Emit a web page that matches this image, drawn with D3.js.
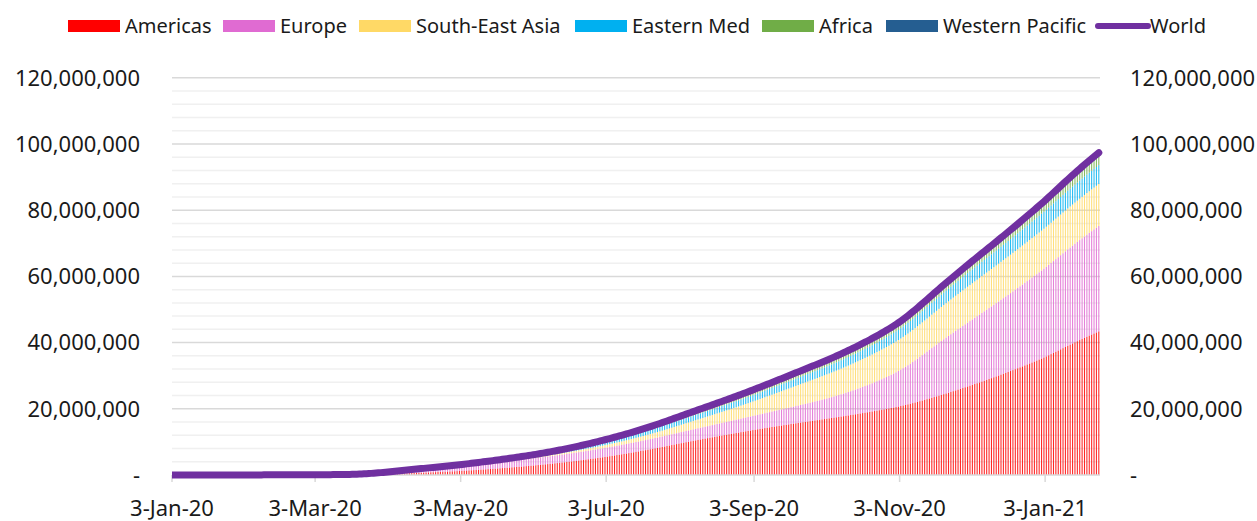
<!DOCTYPE html>
<html>
<head>
<meta charset="utf-8">
<script src="https://cdn.jsdelivr.net/npm/d3@7"></script>
<style>
  html, body { margin: 0; padding: 0; background: #fff; }
  svg { display: block; font-family: "Noto Sans", "Open Sans", sans-serif; }
</style>
</head>
<body>
<svg id="chart" width="1257" height="521"></svg>
<script>
// ---- data -------------------------------------------------------------
// Cumulative confirmed COVID-19 cases by WHO region, in thousands,
// one value per day starting 3 Jan 2020 (through 25 Jan 2021).
const firstDay = "2020-01-03";

const regions = ["Americas", "Europe", "South-East Asia", "Eastern Med", "Africa", "Western Pacific"];
const regionColors = ["#ff0000", "#e06bd2", "#ffd966", "#00b0f0", "#70ad47", "#255e91"];
const worldLabel = "World";
const worldColor = "#7030a0";

const yTickValues = [0, 20e6, 40e6, 60e6, 80e6, 100e6, 120e6];
const xTickLabels = ["3-Jan-20", "3-Mar-20", "3-May-20", "3-Jul-20", "3-Sep-20", "3-Nov-20", "3-Jan-21"];

const americas = [
  0,0,0,0,0,0,0,0,0,0, 0,0,0,0,0,0,0,0,0,0, 0,0,0,0,0,0,0,0,0,
  0,0,0,0,0,0,0,0,0,0, 0,0,0,0,0,0,0,0,0,0, 0,0,0,0,0,0,0,0,0.1,
  0.1,0.1,0.2,0.2,0.3,0.4,0.5,0.6,0.8,1.0, 1.4,1.9,2.6,3.4,4.6,6.2,8.3,11,15,20, 27,35,45,56,69,85,104,125,147,166,188,
  215,245,277,311,344,376,407,439,472,504, 535,565,594,623,653,684,716,749,781,811, 840,869,899,930,962,995,1027,1059,1098,1135,
  1175,1216,1258,1300,1343,1387,1432,1477,1523,1570, 1618,1667,1716,1766,1817,1869,1921,1974,2028,2083, 2139,2195,2252,2310,2369,2429,2489,2550,2612,2675,2739,
  2804,2870,2938,3007,3077,3149,3222,3296,3371,3448, 3526,3605,3685,3767,3850,3934,4020,4107,4195,4285, 4376,4468,4562,4657,4753,4851,4950,5050,5152,5255,
  5360,5467,5575,5685,5796,5909,6023,6139,6256,6375, 6495,6617,6740,6865,6991,7119,7248,7379,7511,7645, 7780,7916,8054,8193,8333,8474,8616,8759,8903,9048,9194,
  9339,9483,9626,9768,9909,10049,10188,10326,10463,10599, 10734,10868,11002,11135,11268,11400,11532,11663,11794,11924, 12054,12183,12312,12440,12568,12695,12822,12948,13074,13199,13324,
  13448,13570,13691,13811,13930,14048,14165,14281,14396,14510, 14623,14736,14848,14960,15071,15182,15292,15402,15511,15620, 15728,15836,15944,16051,16158,16265,16371,16477,16583,16688,
  16793,16899,17006,17114,17222,17331,17441,17552,17663,17775, 17888,18002,18117,18233,18350,18468,18587,18707,18828,18950, 19073,19197,19322,19449,19577,19707,19838,19971,20106,20243,20382,
  20532,20687,20847,21012,21182,21357,21537,21722,21912,22106, 22303,22503,22706,22912,23121,23333,23547,23763,23981,24201, 24423,24647,24873,25101,25331,25563,25797,26033,26271,26511,
  26751,26993,27237,27483,27731,27981,28233,28487,28743,29001, 29261,29523,29787,30053,30321,30591,30863,31137,31413,31691, 31971,32253,32537,32823,33111,33401,33693,33987,34283,34581,34881,
  35191,35511,35841,36181,36531,36887,37247,37609,37971,38331, 38689,39044,39396,39745,40091,40434,40774,41111,41445,41776, 42104,42429,42751,43070,43386
];

const europe = [
  0,0,0,0,0,0,0,0,0,0, 0,0,0,0,0,0,0,0,0,0, 0,0,0,0,0,0,0,0,0,
  0,0,0,0,0,0,0,0,0,0, 0,0,0,0,0,0,0,0,0,0, 0.1,0.2,0.2,0.3,0.4,0.5,0.7,0.9,1.2,
  1.7,2.2,2.7,3.3,4.2,5.5,6.9,9.0,11.7,14.7, 18,22,28,36,45,55,66,80,96,114, 132,155,180,206,234,262,293,323,356,388,420,
  453,487,522,558,594,631,667,702,737,772, 807,841,875,908,941,974,1007,1040,1073,1105, 1137,1169,1201,1233,1264,1295,1326,1356,1386,1416,
  1445,1474,1502,1530,1558,1585,1612,1639,1665,1691, 1717,1742,1767,1792,1816,1840,1864,1887,1910,1933, 1955,1977,1999,2020,2041,2062,2082,2102,2122,2141,2160,
  2178,2196,2214,2231,2248,2265,2282,2299,2316,2333, 2350,2367,2384,2401,2418,2435,2452,2470,2488,2506, 2524,2542,2560,2578,2596,2614,2632,2650,2668,2686,
  2704,2722,2740,2758,2776,2794,2812,2830,2848,2867, 2886,2905,2924,2943,2962,2981,3000,3019,3038,3057, 3076,3095,3114,3133,3153,3173,3193,3213,3233,3253,3274,
  3296,3318,3341,3364,3388,3412,3437,3462,3488,3514, 3541,3568,3596,3624,3653,3682,3712,3742,3773,3804, 3836,3869,3902,3936,3971,4006,4042,4079,4117,4156,4196,
  4237,4279,4322,4366,4411,4457,4504,4552,4601,4651, 4702,4754,4807,4861,4916,4972,5029,5087,5146,5206, 5267,5329,5392,5456,5521,5587,5655,5725,5797,5871,
  5949,6031,6117,6207,6301,6399,6501,6607,6717,6831, 6949,7071,7197,7327,7461,7599,7741,7887,8037,8192, 8352,8517,8687,8862,9043,9230,9423,9622,9828,10041,10261,
  10489,10729,10981,11245,11521,11809,12107,12413,12727,13047, 13372,13700,14030,14360,14688,15013,15334,15650,15961,16266, 16565,16858,17145,17426,17702,17973,18239,18501,18759,19013,
  19264,19512,19758,20002,20244,20484,20722,20959,21195,21430, 21664,21898,22132,22366,22600,22834,23068,23302,23536,23770, 24004,24238,24472,24706,24939,25171,25403,25635,25868,26102,26337,
  26573,26808,27042,27275,27507,27738,27968,28197,28425,28652, 28878,29102,29324,29544,29762,29978,30192,30404,30614,30822, 31028,31232,31434,31634,31832
];

const southEastAsia = [
  0,0,0,0,0,0,0,0,0,0, 0,0,0,0,0,0,0,0,0,0, 0,0,0,0,0,0,0,0,0,
  0,0,0,0,0,0,0,0,0,0, 0,0,0,0,0,0,0,0,0,0, 0,0,0,0,0,0,0,0,0,
  0.1,0.1,0.1,0.1,0.1,0.1,0.1,0.1,0.2,0.2, 0.2,0.3,0.3,0.3,0.4,0.4,0.5,0.6,0.7,0.9, 1.0,1.2,1.5,1.8,2.1,2.5,2.9,3.3,3.7,4.2,4.8,
  5.4,6.2,7.1,8.0,9.0,10.0,11.0,12.1,13.2,14.4, 15.6,16.9,18.2,19.6,21.0,22.5,24.0,25.6,27.3,29.0, 30.8,32.7,34.6,36.6,38.6,40.7,42.9,45.1,47.4,49.8,
  52,55,58,61,65,68,72,76,80,85, 89,94,99,104,110,116,122,128,134,141, 149,156,164,172,181,190,199,209,219,230,241,
  252,264,276,289,302,316,330,345,360,376, 392,409,426,444,462,481,500,520,540,561, 582,604,626,649,672,696,720,745,770,796,
  821,847,874,902,931,961,991,1022,1054,1087, 1121,1156,1192,1229,1267,1306,1346,1387,1429,1472, 1516,1562,1609,1657,1707,1758,1811,1866,1922,1980,2040,
  2100,2161,2222,2284,2346,2409,2472,2536,2600,2665, 2730,2796,2862,2929,2996,3064,3132,3201,3270,3340, 3411,3483,3556,3630,3705,3781,3858,3936,4016,4098,4182,
  4268,4356,4446,4537,4629,4722,4816,4911,5007,5104, 5202,5300,5399,5498,5598,5698,5798,5897,5996,6094, 6191,6287,6382,6476,6569,6661,6752,6842,6931,7019,
  7106,7192,7277,7361,7444,7526,7607,7687,7766,7844, 7921,7997,8072,8146,8219,8291,8362,8432,8501,8569, 8636,8702,8767,8831,8894,8956,9017,9077,9136,9194,9251,
  9308,9364,9420,9475,9530,9584,9638,9691,9744,9796, 9848,9899,9950,10000,10050,10100,10150,10201,10252,10303, 10355,10407,10459,10511,10563,10614,10665,10715,10765,10814,
  10862,10909,10956,11002,11048,11093,11138,11182,11225,11268, 11310,11351,11392,11432,11472,11511,11549,11587,11624,11661, 11697,11733,11768,11803,11837,11871,11904,11937,11970,12004,12038,
  12068,12097,12126,12154,12182,12210,12238,12265,12292,12319, 12346,12372,12398,12424,12450,12476,12501,12526,12551,12576, 12601,12626,12650,12674,12698
];

const easternMed = [
  0,0,0,0,0,0,0,0,0,0, 0,0,0,0,0,0,0,0,0,0, 0,0,0,0,0,0,0,0,0,
  0,0,0,0,0,0,0,0,0,0, 0,0,0,0,0,0,0,0,0,0, 0,0,0,0.1,0.1,0.2,0.2,0.3,0.4,0.5,
  0.9,1.6,2.4,3.0,3.8,4.9,6.0,7.2,8.2,9.2, 10.3,11.5,12.6,14.0,15.5,17.0,18.5,20.0,21.5,23.0, 24.8,26.8,28.8,30.8,32.8,35.0,37.5,40.0,43.0,46.0,49.5,
  53,56,59,63,67,70,74,78,82,86, 90,94,98,103,107,111,116,120,124,129, 134,139,143,148,154,159,164,169,175,181,
  187,193,200,207,214,222,230,238,246,255, 264,273,282,292,302,312,322,333,344,355, 366,378,390,402,414,427,440,453,467,481,496,
  511,526,542,558,574,591,608,625,642,660, 678,696,714,733,752,771,790,809,829,849, 869,889,909,929,949,969,989,1009,1029,1049,
  1068,1086,1104,1121,1138,1155,1171,1187,1203,1219, 1234,1249,1264,1279,1294,1309,1324,1338,1352,1366, 1380,1394,1408,1422,1435,1448,1461,1474,1487,1500,1513,
  1526,1538,1550,1562,1574,1586,1598,1610,1622,1634, 1646,1658,1670,1682,1694,1706,1718,1730,1742,1754, 1766,1778,1790,1802,1814,1826,1838,1850,1863,1876,1889,
  1903,1917,1931,1946,1961,1976,1991,2006,2021,2037, 2053,2069,2085,2101,2117,2133,2149,2165,2181,2198, 2215,2232,2249,2266,2283,2300,2317,2334,2352,2370,
  2388,2406,2425,2444,2463,2482,2502,2522,2542,2562, 2583,2604,2625,2646,2668,2690,2712,2734,2757,2780, 2803,2827,2851,2875,2900,2925,2950,2976,3002,3029,3056,
  3084,3113,3143,3174,3206,3239,3272,3306,3340,3375, 3410,3445,3481,3517,3553,3589,3626,3663,3700,3737, 3774,3811,3848,3885,3922,3958,3994,4030,4066,4102,
  4138,4173,4208,4243,4277,4311,4345,4378,4411,4444, 4477,4509,4541,4573,4605,4636,4667,4698,4729,4760, 4791,4822,4853,4884,4915,4946,4977,5008,5039,5070,5101,
  5125,5149,5174,5199,5224,5249,5274,5299,5324,5349, 5374,5399,5424,5449,5474,5499,5524,5549,5574,5599, 5624,5649,5674,5699,5724
];

const africa = [
  0,0,0,0,0,0,0,0,0,0, 0,0,0,0,0,0,0,0,0,0, 0,0,0,0,0,0,0,0,0,
  0,0,0,0,0,0,0,0,0,0, 0,0,0,0,0,0,0,0,0,0, 0,0,0,0,0,0,0,0,0,
  0,0,0,0,0,0,0,0,0,0, 0,0,0,0.1,0.1,0.1,0.2,0.2,0.3,0.4, 0.5,0.6,0.8,1.0,1.2,1.5,1.8,2.1,2.5,2.9,3.3,
  3.6,4.0,4.4,4.8,5.3,5.8,6.3,6.8,7.3,7.8, 8.4,9.0,9.6,10.3,11.0,11.7,12.4,13.2,14.0,14.8, 15.7,16.6,17.6,18.6,19.6,20.7,21.8,23.0,24.2,25.5,
  27,28,30,32,34,35,37,40,42,44, 46,49,51,53,56,58,61,64,66,69, 72,75,78,81,84,87,90,93,96,99,102,
  106,109,113,117,122,126,131,136,141,147, 152,158,164,170,177,183,191,198,206,214, 222,231,240,249,258,268,278,289,299,310,
  321,332,344,356,368,381,394,407,421,435, 449,464,479,494,509,525,541,557,573,589, 605,621,637,653,669,686,703,720,737,754,771,
  784,797,809,821,833,844,855,866,876,886, 896,906,915,924,933,942,951,959,967,975, 983,991,999,1007,1015,1023,1031,1039,1047,1055,1063,
  1070,1077,1084,1091,1098,1104,1110,1116,1122,1128, 1134,1140,1146,1152,1158,1163,1168,1173,1178,1183, 1188,1193,1198,1203,1208,1213,1218,1223,1228,1233,
  1237,1241,1245,1249,1254,1259,1264,1269,1274,1279, 1284,1289,1294,1299,1304,1309,1314,1319,1324,1329, 1334,1339,1344,1349,1354,1359,1364,1370,1376,1382,1388,
  1394,1400,1406,1412,1418,1424,1430,1436,1442,1449, 1456,1463,1470,1477,1484,1491,1498,1505,1512,1519, 1526,1533,1541,1549,1557,1565,1573,1581,1589,1598,
  1606,1614,1622,1631,1640,1649,1658,1667,1677,1687, 1697,1707,1718,1729,1740,1751,1763,1775,1787,1799, 1812,1825,1838,1852,1866,1880,1895,1910,1925,1941,1957,
  1974,1992,2010,2029,2048,2068,2088,2109,2130,2151, 2172,2193,2214,2235,2256,2276,2296,2316,2335,2354, 2373,2391,2409,2426,2443
];

const westernPacific = [
  0,0,0,0,0,0,0,0,0,0, 0,0,0,0,0,0,0.2,0.3,0.4,0.6, 0.6,0.9,1.3,2.0,2.8,4.5,6.0,7.8,9.8,
  11.9,14.4,17.2,20.4,24.4,28.1,31.2,34.6,37.3,40.2, 42.7,44.7,59.9,64.0,66.6,68.6,70.6,72.5,74.3,74.9, 75.6,76.9,77.3,78.1,78.6,79.4,80.2,81.2,82.6,
  84.2,85.6,86.9,88.0,89.1,90.1,91.0,91.7,92.2,92.6, 93.2,93.9,94.5,95.0,95.6,96.1,96.6,97.2,97.9,98.7, 99.6,100.6,101.8,102.8,103.9,104.9,106.1,107.4,108.9,110.3,111.8,
  113.5,115.2,116.9,118.5,120.0,121.5,122.9,124.2,125.6,127.0, 128.4,129.7,131.0,132.3,133.5,134.8,136.1,137.4,138.6,139.8, 140.9,142.0,143.1,144.1,145.0,146.0,146.9,147.8,148.7,149.6,
  150.5,151.3,152.1,152.9,153.6,154.3,155.1,155.9,156.7,157.4, 158.1,158.8,159.5,160.2,160.9,161.6,162.3,163.1,163.9,164.6, 165.3,166.0,166.7,167.4,168.1,168.8,169.5,170.2,170.9,171.7,172.5,
  173.3,174.1,174.9,175.7,176.5,177.3,178.1,178.9,179.7,180.6, 181.5,182.4,183.3,184.3,185.3,186.4,187.5,188.6,189.8,191.0, 192.3,193.6,195.0,196.4,197.9,199.4,201.0,202.6,204.3,206.0,
  208.5,211.0,213.6,216.2,218.9,221.7,224.5,227.4,230.4,233.5, 236.7,240.0,243.4,246.9,250.5,254.2,258.0,261.9,265.9,270.0, 274.2,278.5,282.9,287.4,292.0,296.7,301.5,306.4,311.4,316.5,321.7,
  327.2,332.8,338.5,344.3,350.2,356.1,362.0,368.0,374.0,380.0, 386.0,392.0,398.0,404.0,410.0,415.9,421.8,427.7,433.6,439.5, 445.4,451.2,457.0,462.8,468.6,474.4,480.1,485.8,491.5,497.2,502.9,
  506.9,510.9,514.9,518.9,522.9,526.8,530.7,534.6,538.5,542.4, 546.3,550.2,554.1,558.0,561.9,565.8,569.7,573.6,577.5,581.4, 585.3,589.2,593.1,597.0,600.9,604.7,608.5,612.3,616.1,619.9,
  623.5,627.1,630.7,634.3,637.9,641.5,645.1,648.7,652.3,655.9, 659.5,663.1,666.7,670.3,673.9,677.5,681.1,684.7,688.3,691.9, 695.5,699.1,702.7,706.3,709.9,713.5,717.1,720.7,724.3,727.9,731.5,
  735.4,739.3,743.2,747.1,751.0,755.0,759.0,763.0,767.1,771.2, 775.4,779.6,783.9,788.2,792.6,797.0,801.5,806.0,810.6,815.2, 819.9,824.6,829.4,834.2,839.1,844.0,849.0,854.0,859.1,864.2,
  869.5,874.9,880.4,886.0,891.7,897.5,903.4,909.4,915.5,921.7, 928.0,934.4,940.9,947.5,954.2,961.0,967.9,974.9,982.0,989.2, 996.5,1003.9,1011.4,1019.0,1026.7,1034.5,1042.4,1050.4,1058.5,1066.7,1075.0,
  1084.0,1093.2,1102.5,1111.9,1121.4,1131.0,1140.7,1150.5,1160.4,1170.3, 1180.2,1190.1,1200.0,1209.9,1219.8,1229.7,1239.6,1249.5,1259.3,1269.1, 1278.9,1288.6,1298.3,1307.9,1317.5
];

const regionSeries = [americas, europe, southEastAsia, easternMed, africa, westernPacific];

// ---- layout -----------------------------------------------------------
const plot = { left: 172, right: 1100, top: 77.8, bottom: 475 };
const font = { axis: 22, legend: 20 };

const svg = d3.select("#chart");
const start = d3.timeParse("%Y-%m-%d")(firstDay);
const nDays = americas.length;
const days = d3.range(nDays).map(i => d3.timeDay.offset(start, i));

// one row per day, values in cases
const rows = days.map((date, i) => {
  const r = { date };
  regions.forEach((name, k) => { r[name] = regionSeries[k][i] * 1000; });
  return r;
});

const x = d3.scaleTime()
  .domain([start, d3.timeDay.offset(start, nDays)])
  .range([plot.left, plot.right]);
const y = d3.scaleLinear()
  .domain([0, 120e6])
  .range([plot.bottom, plot.top]);

const dayWidth = x(d3.timeDay.offset(start, 1)) - x(start);
const barWidth = dayWidth * 0.45;

// ---- gridlines ----------------------------------------------------------
const minorTicks = d3.range(0, 120e6 + 1, 4e6).filter(v => v % 20e6 !== 0);
svg.append("g").selectAll("line").data(minorTicks).join("line")
  .attr("x1", plot.left).attr("x2", plot.right)
  .attr("y1", d => y(d)).attr("y2", d => y(d))
  .attr("stroke", "#f0f0f0").attr("stroke-width", 1.5);
svg.append("g").selectAll("line").data(yTickValues.filter(v => v > 0)).join("line")
  .attr("x1", plot.left).attr("x2", plot.right)
  .attr("y1", d => y(d)).attr("y2", d => y(d))
  .attr("stroke", "#d9d9d9").attr("stroke-width", 1.5);

// ---- stacked daily bars ---------------------------------------------------
const stacked = d3.stack().keys(regions)(rows);
const barLayer = svg.append("g").attr("fill-opacity", 0.85);
stacked.forEach((layer, k) => {
  barLayer.append("g")
    .attr("fill", regionColors[k])
    .selectAll("rect").data(layer).join("rect")
    .attr("x", d => x(d.data.date) + (dayWidth - barWidth) / 2)
    .attr("width", barWidth)
    .attr("y", d => y(d[1]))
    .attr("height", d => Math.max(0, y(d[0]) - y(d[1])));
});

// ---- x axis -----------------------------------------------------------
const parseTick = d3.timeParse("%-d-%b-%y");
const tickDates = xTickLabels.map(parseTick);
const xAxis = svg.append("g");
xAxis.append("line")
  .attr("x1", plot.left).attr("x2", plot.right)
  .attr("y1", plot.bottom).attr("y2", plot.bottom)
  .attr("stroke", "#d9d9d9").attr("stroke-width", 1.5);
xAxis.selectAll(".tick").data(tickDates).join("line")
  .attr("x1", d => x(d)).attr("x2", d => x(d))
  .attr("y1", plot.bottom).attr("y2", plot.bottom + 7)
  .attr("stroke", "#d9d9d9").attr("stroke-width", 1.5);
xAxis.selectAll("text").data(tickDates).join("text")
  .attr("x", d => x(d)).attr("y", 516)
  .attr("text-anchor", "middle")
  .attr("font-size", font.axis).attr("fill", "#1a1a1a")
  .text((d, i) => xTickLabels[i]);

// ---- world total line ---------------------------------------------------
svg.append("defs").append("clipPath").attr("id", "plotClip")
  .append("rect").attr("x", plot.left).attr("y", 0)
  .attr("width", plot.right - plot.left + 8).attr("height", 521);

const worldLine = d3.line()
  .x(d => x(d.data.date) + dayWidth / 2)
  .y(d => y(d[1]));
svg.append("path")
  .datum(stacked[stacked.length - 1])
  .attr("clip-path", "url(#plotClip)")
  .attr("d", worldLine)
  .attr("fill", "none")
  .attr("stroke", worldColor)
  .attr("stroke-width", 7)
  .attr("stroke-linecap", "round")
  .attr("stroke-linejoin", "round");

// ---- y axes (left and right, same scale) ---------------------------------
const fmt = v => v === 0 ? "-" : d3.format(",")(v);
svg.append("g").selectAll("text").data(yTickValues).join("text")
  .attr("x", 140).attr("y", d => y(d)).attr("dy", "0.35em")
  .attr("text-anchor", "end")
  .attr("font-size", font.axis).attr("fill", "#1a1a1a")
  .text(fmt);
svg.append("g").selectAll("text").data(yTickValues).join("text")
  .attr("x", 1130).attr("y", d => y(d)).attr("dy", "0.35em")
  .attr("text-anchor", "start")
  .attr("font-size", font.axis).attr("fill", "#1a1a1a")
  .text(fmt);

// ---- legend -------------------------------------------------------------
const legendX = [68, 223, 359, 575, 762, 886];
const legendY = 26;
const legend = svg.append("g");
regions.forEach((name, k) => {
  legend.append("rect")
    .attr("x", legendX[k]).attr("y", legendY - 6)
    .attr("width", 52).attr("height", 12)
    .attr("fill", regionColors[k]);
  legend.append("text")
    .attr("x", legendX[k] + 57).attr("y", legendY).attr("dy", "0.35em")
    .attr("font-size", font.legend).attr("fill", "#1a1a1a")
    .text(name);
});
legend.append("line")
  .attr("x1", 1098).attr("x2", 1148)
  .attr("y1", legendY).attr("y2", legendY)
  .attr("stroke", worldColor).attr("stroke-width", 6)
  .attr("stroke-linecap", "round");
legend.append("text")
  .attr("x", 1150).attr("y", legendY).attr("dy", "0.35em")
  .attr("font-size", font.legend).attr("fill", "#1a1a1a")
  .text(worldLabel);
</script>
</body>
</html>
